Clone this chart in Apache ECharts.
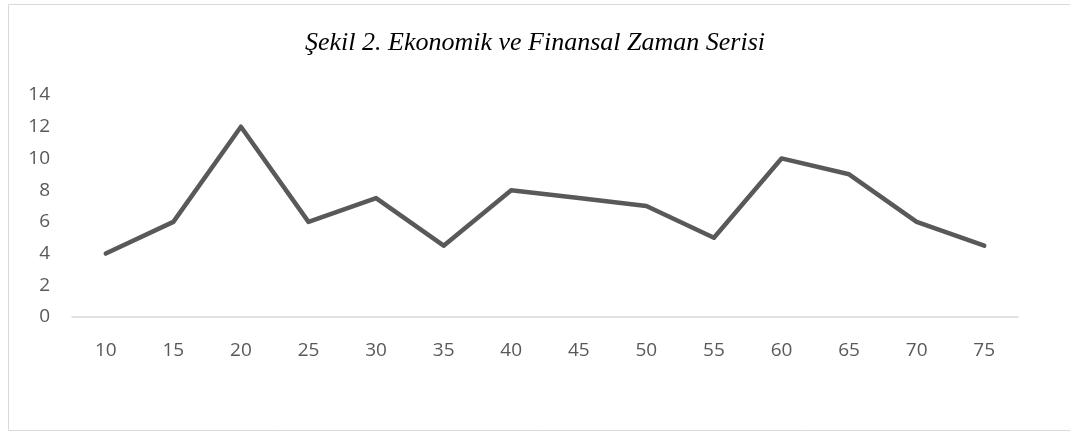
<!DOCTYPE html>
<html>
<head>
<meta charset="utf-8">
<script src="https://cdn.jsdelivr.net/npm/echarts@6/dist/echarts.min.js"></script>
<style>
  html, body { margin: 0; padding: 0; background: #fff; }
  #chart { width: 1070px; height: 432px; }
</style>
</head>
<body>
<div id="chart"></div>
<script>
// veriler
var categories = ['10', '15', '20', '25', '30', '35', '40', '45', '50', '55', '60', '65', '70', '75'];
var values = [4, 6, 12, 6, 7.5, 4.5, 8, 7.5, 7, 5, 10, 9, 6, 4.5];
var yTicks = { min: 0, max: 14, interval: 2 };
var titleText = 'Şekil 2. Ekonomik ve Finansal Zaman Serisi';

var myChart = echarts.init(document.getElementById('chart'));
myChart.setOption({
    animation: false,
    title: {
        text: titleText,
        left: 'center',
        top: 25,
        textStyle: {
            fontFamily: 'Liberation Serif',
            fontStyle: 'italic',
            fontWeight: 'normal',
            fontSize: 26,
            color: '#000'
        }
    },
    graphic: [{
        type: 'rect',
        shape: { x: 8.5, y: 4.5, width: 1080, height: 426 },
        style: { fill: 'none', stroke: '#d9d9d9', lineWidth: 1 },
        silent: true
    }],
    grid: { left: 72, right: 52, top: 95, bottom: 115 },
    xAxis: {
        type: 'category',
        boundaryGap: true,
        data: categories,
        axisLine: { lineStyle: { color: '#d9d9d9', width: 1.5 } },
        axisTick: { show: false },
        axisLabel: { color: '#595959', fontSize: 19, fontFamily: 'Open Sans', margin: 24 }
    },
    yAxis: {
        type: 'value',
        min: yTicks.min,
        max: yTicks.max,
        interval: yTicks.interval,
        axisLine: { show: false },
        axisTick: { show: false },
        splitLine: { show: false },
        axisLabel: { color: '#595959', fontSize: 19, fontFamily: 'Open Sans', margin: 22 }
    },
    series: [{
        type: 'line',
        data: values,
        symbol: 'none',
        lineStyle: { color: '#595959', width: 4.5, cap: 'round', join: 'round' }
    }]
});
</script>
</body>
</html>
